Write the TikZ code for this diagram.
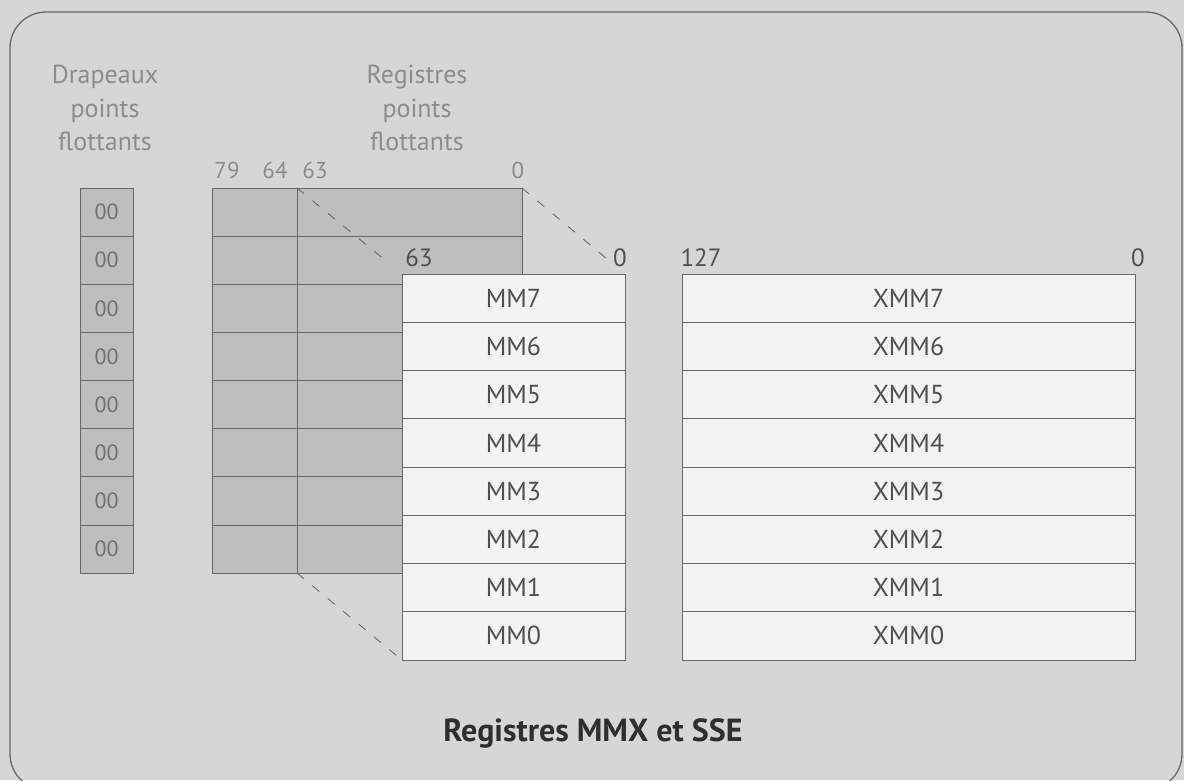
\documentclass[tikz,border=0pt]{standalone}
\usepackage{fontspec}
\setmainfont{PT Sans}
\definecolor{bg}{HTML}{D6D6D6}
\definecolor{gridfill}{HTML}{BEBEBE}
\definecolor{boxfill}{HTML}{F3F3F3}
\definecolor{linec}{HTML}{686868}
\definecolor{txtlight}{HTML}{8C8C8C}
\definecolor{txtdark}{HTML}{505050}
\definecolor{titlec}{HTML}{2E2E2E}
\begin{document}
\begin{tikzpicture}[x=1pt,y=-1pt,
  every node/.style={inner sep=0pt, outer sep=0pt},
  regbox/.style={draw=linec, line width=0.8pt, fill=boxfill, minimum width=#1,
    minimum height=48.25pt, font=\fontsize{26}{30}\selectfont, text=txtdark},
  fpcell/.style={draw=linec, line width=0.7pt, fill=gridfill, minimum width=#1,
    minimum height=48.125pt},
  flagcell/.style={draw=linec, line width=0.7pt, fill=gridfill, minimum width=53pt,
    minimum height=48.125pt, font=\fontsize{22}{24}\selectfont, text=txtlight!80!black},
  headlbl/.style={align=center, font=\fontsize{26}{33.5}\selectfont, text=txtlight},
  bitsmall/.style={font=\fontsize{23}{25}\selectfont, text=txtlight},
  bitlbl/.style={font=\fontsize{25}{27}\selectfont, text=txtdark},
  conn/.style={draw=linec, line width=0.9pt, dash pattern=on 9pt off 11pt}
]
\useasboundingbox (0,0) rectangle (1184,780);
\fill[bg] (0,0) rectangle (1184,780);
\begin{scope}
  \clip (0,0) rectangle (1184,780);
  \draw[linec, line width=1.3pt, rounded corners=36pt] (10,12) rectangle (1182,790);
\end{scope}

% header labels
\node[headlbl] (drap) at (105,108) {Drapeaux\\points\\flottants};
\node[headlbl] (regfp) at (417,108) {Registres\\points\\flottants};

% floating point flags and registers
\foreach \k in {0,...,7}{
  \pgfmathsetmacro{\yc}{188+\k*48.125+24.0625}
  \node[flagcell] (fl\k) at (106.5,\yc) {00};
  \node[fpcell=85pt] (fpl\k) at (254.5,\yc) {};
  \node[fpcell=225pt] (fpr\k) at (409.5,\yc) {};
}

% bit numbers above FP registers
\node[bitsmall] (b79) at (227,170) {79};
\node[bitsmall] (b64) at (275,170) {64};
\node[bitsmall] (b63) at (315,170) {63};
\node[bitsmall] (b0) at (518,170) {0};

% MMX and XMM registers
\foreach \i in {0,...,7}{
  \pgfmathsetmacro{\yc}{274+(7-\i)*48.25+24.125}
  \node[regbox=223pt] (mm\i) at (513.5,\yc) {MM\i};
  \node[regbox=453pt] (xmm\i) at (908.5,\yc) {XMM\i};
}

\node[bitlbl] (m63) at (419,258) {63};
\node[bitlbl] (m0) at (620,258) {0};
\node[bitlbl] (x127) at (701,258) {127};
\node[bitlbl] (x0) at (1138,258) {0};

% mapping lines
\draw[conn, shorten >=20pt] (fpr0.north west) -- (mm7.north west);
\draw[conn, shorten >=18pt] (fpr0.north east) -- (mm7.north east);
\draw[conn] (fpr7.south west) -- (mm0.south west);

% title
\node[font=\bfseries\fontsize{32}{34}\selectfont, text=titlec] (title) at (593,733) {Registres MMX et SSE};
\end{tikzpicture}
\end{document}
